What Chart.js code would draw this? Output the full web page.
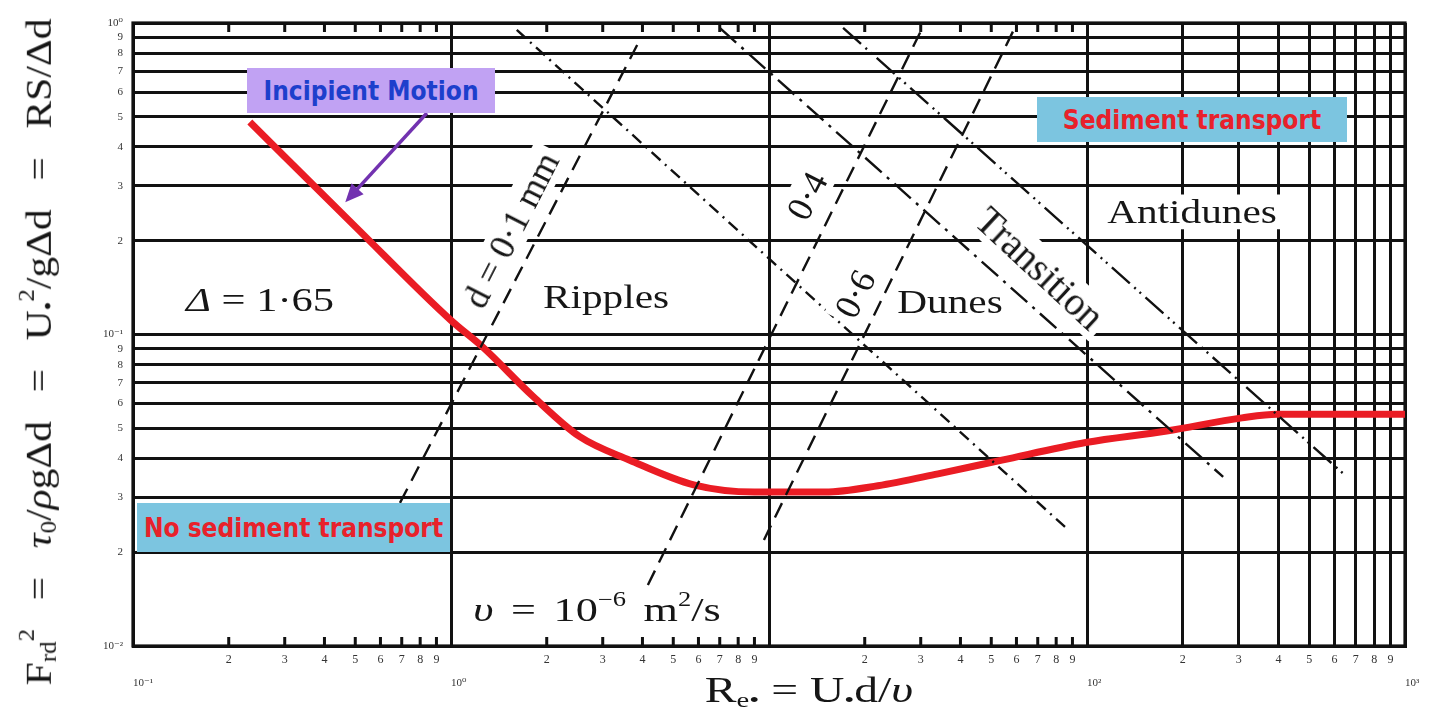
<!DOCTYPE html>
<html>
<head>
<meta charset="utf-8">
<title>Bed-form regimes on a Shields-type diagram</title>
<script src="https://cdn.jsdelivr.net/npm/chart.js@4.4.1/dist/chart.umd.min.js"></script>
<style>
    html, body { margin: 0; padding: 0; background: #fff; }
    #wrap { position: relative; width: 1437px; height: 713px; overflow: hidden; }
    #regimeChart { position: absolute; left: 0; top: 0; }
    .t {
        position: absolute;
        white-space: nowrap;
        line-height: 1;
        color: #161616;
        font-family: "Liberation Serif", "DejaVu Serif", serif;
        font-size: 33px;
    }
    .t sub { font-size: 0.6em; vertical-align: -0.25em; line-height: 0; }
    .t sup { font-size: 0.6em; vertical-align: 0.75em; line-height: 0; }
    .gap { background: #fff; padding: 1px 6px; }
    .box {
        position: absolute;
        display: flex;
        align-items: center;
        justify-content: center;
        font-family: "DejaVu Sans Condensed", "DejaVu Sans", sans-serif;
        font-stretch: condensed;
        font-weight: bold;
        font-size: 26px;
        line-height: 1;
    }
</style>
</head>
<body>
<div id="wrap">
    <canvas id="regimeChart" width="1437" height="713"></canvas>

    <div class="t" style="left:38px; top:352px; font-size:32px; word-spacing:14px; transform: translate(-50%,-50%) rotate(-90deg) scale(1.3, 1.15);">F<sub>rd</sub><sup>2</sup> = <i>τ</i><sub>0</sub>/<i>ρ</i>gΔd = U<sub>•</sub><sup>2</sup>/gΔd = RS/Δd</div>
    <div class="t" style="left:809px; top:690px; font-size:35px; transform: translate(-50%,-50%) scaleX(1.36);">R<sub>e•</sub> = U<sub>•</sub>d/<i>υ</i></div>

    <div class="t" style="left:260px; top:300px; font-size:34px; transform: translate(-50%,-50%) scaleX(1.25);"><i>Δ</i> = 1·65</div>
    <div class="t" style="left:606px; top:297px; transform: translate(-50%,-50%) scaleX(1.25);">Ripples</div>
    <div class="t" style="left:950px; top:302px; transform: translate(-50%,-50%) scaleX(1.25);">Dunes</div>
    <div class="t gap" style="left:1192px; top:212px; transform: translate(-50%,-50%) scaleX(1.25);">Antidunes</div>
    <div class="t" style="left:597px; top:610px; font-size:34px; word-spacing:5px; transform: translate(-50%,-50%) scaleX(1.3);"><i>υ</i> = 10<sup>−6</sup> m<sup>2</sup>/s</div>

    <div class="t gap" style="left:511px; top:230px; font-size:36px; transform: translate(-50%,-50%) rotate(-63deg);">d = 0·1 mm</div>
    <div class="t gap" style="left:807px; top:196px; font-size:36px; transform: translate(-50%,-50%) rotate(-63deg);">0·4</div>
    <div class="t gap" style="left:855px; top:294px; font-size:36px; transform: translate(-50%,-50%) rotate(-63deg);">0·6</div>
    <div class="t gap" style="left:1040px; top:268px; font-size:39px; transform: translate(-50%,-50%) rotate(43deg);">Transition</div>

    <div class="box" style="left:247px; top:68px; width:248px; height:45px; background:#c1a2f3; color:#1d3fcc;">Incipient Motion</div>
    <div class="box" style="left:1037px; top:97px; width:310px; height:45px; background:#7cc5e0; color:#e8212b;">Sediment transport</div>
    <div class="box" style="left:137px; top:503px; width:313px; height:49px; background:#7cc5e0; color:#e8212b;">No sediment transport</div>
</div>

<script>
// Bed-form regime chart, log-log (Re* against Froude-type number)
const ink = "#111111";
const serif = "'Liberation Serif', 'DejaVu Serif', serif";

// Axis decades and minor tick mantissas
const reDecades = [0.1, 1, 10, 100, 1000];
const frDecades = [0.01, 0.1, 1];
const mantissas = [2, 3, 4, 5, 6, 7, 8, 9];
const reDecadeLabels = ["10⁻¹", "10⁰", "", "10²", "10³"];
const frDecadeLabels = ["10⁻²", "10⁻¹", "10⁰"];

// Incipient motion curve (red)
const curveRe = [0.233, 0.5, 1.0, 1.26, 1.82, 2.54, 3.65, 5.8, 9.0, 15, 22, 34, 54, 99, 178, 307, 396, 1000];
const curveFr = [0.481, 0.222, 0.111, 0.091, 0.063, 0.047, 0.0395, 0.0329, 0.0312, 0.0312, 0.0327, 0.0357, 0.0395, 0.045, 0.049, 0.054, 0.0555, 0.0555];

// Regime boundary lines (end points)
const d01Re = [0.691, 3.85];
const d01Fr = [0.0288, 0.85];
const d04Re = [4.16, 30.9];
const d04Fr = [0.0157, 1.0];
const d06Re = [9.64, 60.3];
const d06Fr = [0.0219, 1.0];
const rippleTopRe = [1.61, 85.3];
const rippleTopFr = [0.95, 0.0241];
const duneTopRe = [7.0, 268];
const duneTopFr = [0.964, 0.0349];
const transTopRe = [17.1, 657];
const transTopFr = [0.964, 0.0349];

// Annotation arrow (data units)
const arrowTail = { x: 0.84, y: 0.514 };
const arrowTip = { x: 0.465, y: 0.266 };

function zip(xs, ys) {
    return xs.map((x, i) => ({ x: x, y: ys[i] }));
}

function withMinors(decades) {
    const out = [];
    decades.forEach((d, i) => {
        out.push(d);
        if (i < decades.length - 1) {
            mantissas.forEach((m) => out.push(+(d * m).toPrecision(3)));
        }
    });
    return out;
}

function isDecade(v) {
    const l = Math.log10(v);
    return Math.abs(l - Math.round(l)) < 1e-6;
}

function mantissaOf(v) {
    return Math.round(v / Math.pow(10, Math.floor(Math.log10(v) + 1e-9)));
}

function decadeLabel(v, decades, labels) {
    const i = decades.findIndex((d) => Math.abs(d - v) / d < 1e-6);
    return i >= 0 ? labels[i] : "";
}

const reTicks = withMinors(reDecades);
const frTicks = withMinors(frDecades);

function boundary(xs, ys, dash) {
    return {
        data: zip(xs, ys),
        borderColor: ink,
        borderWidth: 2.4,
        borderDash: dash,
        pointRadius: 0,
        fill: false,
        tension: 0,
    };
}

// Inner minor ticks on the top/bottom edges plus the frame
const edgeTicks = {
    id: "edgeTicks",
    beforeDatasetsDraw(chart) {
        const { ctx, chartArea: a, scales } = chart;
        ctx.save();
        ctx.strokeStyle = ink;
        ctx.lineWidth = 3;
        scales.x.ticks.forEach((t) => {
            if (isDecade(t.value) || t.value >= 100) return;
            const px = scales.x.getPixelForValue(t.value);
            ctx.beginPath();
            ctx.moveTo(px, a.bottom);
            ctx.lineTo(px, a.bottom - 9);
            ctx.moveTo(px, a.top);
            ctx.lineTo(px, a.top + 9);
            ctx.stroke();
        });
        ctx.lineWidth = 3.2;
        ctx.strokeRect(a.left, a.top, a.right - a.left, a.bottom - a.top);
        ctx.restore();
    },
};

// Purple arrow from the "Incipient Motion" box to the curve
const motionArrow = {
    id: "motionArrow",
    afterDatasetsDraw(chart) {
        const { ctx, scales } = chart;
        const x0 = scales.x.getPixelForValue(arrowTail.x);
        const y0 = scales.y.getPixelForValue(arrowTail.y);
        const x1 = scales.x.getPixelForValue(arrowTip.x);
        const y1 = scales.y.getPixelForValue(arrowTip.y);
        const ang = Math.atan2(y1 - y0, x1 - x0);
        const head = 20;
        ctx.save();
        ctx.strokeStyle = "#7232b0";
        ctx.fillStyle = "#7232b0";
        ctx.lineWidth = 3.5;
        ctx.beginPath();
        ctx.moveTo(x0, y0);
        ctx.lineTo(x1 - Math.cos(ang) * head * 0.8, y1 - Math.sin(ang) * head * 0.8);
        ctx.stroke();
        ctx.beginPath();
        ctx.moveTo(x1, y1);
        ctx.lineTo(x1 - head * Math.cos(ang - 0.42), y1 - head * Math.sin(ang - 0.42));
        ctx.lineTo(x1 - head * Math.cos(ang + 0.42), y1 - head * Math.sin(ang + 0.42));
        ctx.closePath();
        ctx.fill();
        ctx.restore();
    },
};

new Chart(document.getElementById("regimeChart"), {
    type: "line",
    data: {
        datasets: [
            boundary(d01Re, d01Fr, [16, 9]),
            boundary(d04Re, d04Fr, [16, 9]),
            boundary(d06Re, d06Fr, [16, 9]),
            boundary(rippleTopRe, rippleTopFr, [12, 6, 2, 6]),
            boundary(duneTopRe, duneTopFr, [22, 7, 3, 7]),
            boundary(transTopRe, transTopFr, [24, 6, 2, 5, 2, 6]),
            {
                label: "Incipient motion",
                data: zip(curveRe, curveFr),
                borderColor: "#ea1c24",
                borderWidth: 7,
                pointRadius: 0,
                fill: false,
                cubicInterpolationMode: "monotone",
            },
        ],
    },
    options: {
        responsive: false,
        animation: false,
        layout: { padding: { top: 23, right: 32, left: 0, bottom: 0 } },
        plugins: {
            legend: { display: false },
            tooltip: { enabled: false },
        },
        scales: {
            x: {
                type: "logarithmic",
                min: 0.1,
                max: 1000,
                position: "bottom",
                weight: 0,
                afterBuildTicks: (s) => {
                    s.ticks = reTicks.map((v) => ({ value: v }));
                },
                afterFit: (s) => {
                    s.height = 20;
                },
                grid: {
                    color: (c) => {
                        const v = c.tick ? c.tick.value : 0;
                        return isDecade(v) || v >= 100 ? ink : "rgba(0,0,0,0)";
                    },
                    lineWidth: 3,
                    drawTicks: false,
                },
                border: { display: true, color: ink, width: 3 },
                ticks: {
                    autoSkip: false,
                    maxRotation: 0,
                    padding: 7,
                    color: "#333",
                    font: { family: serif, size: 12 },
                    callback: (v) => (isDecade(v) ? "" : String(mantissaOf(v))),
                },
            },
            x2: {
                type: "logarithmic",
                min: 0.1,
                max: 1000,
                position: "bottom",
                weight: 1,
                afterBuildTicks: (s) => {
                    s.ticks = reDecades.map((v) => ({ value: v }));
                },
                afterFit: (s) => {
                    s.height = 47;
                },
                grid: { display: false, drawTicks: false },
                border: { display: false },
                ticks: {
                    autoSkip: false,
                    maxRotation: 0,
                    padding: 11,
                    align: "start",
                    color: "#333",
                    font: { family: serif, size: 11 },
                    callback: (v) => decadeLabel(v, reDecades, reDecadeLabels),
                },
            },
            y: {
                type: "logarithmic",
                min: 0.01,
                max: 1,
                afterBuildTicks: (s) => {
                    s.ticks = frTicks.map((v) => ({ value: v }));
                },
                afterFit: (s) => {
                    s.width = 133;
                },
                grid: { color: ink, lineWidth: 3, drawTicks: false },
                border: { display: true, color: ink, width: 3 },
                ticks: {
                    autoSkip: false,
                    padding: 10,
                    color: "#333",
                    font: { family: serif, size: 11 },
                    callback: (v) =>
                        isDecade(v) ? decadeLabel(v, frDecades, frDecadeLabels) : String(mantissaOf(v)),
                },
            },
        },
    },
    plugins: [edgeTicks, motionArrow],
});
</script>
</body>
</html>
